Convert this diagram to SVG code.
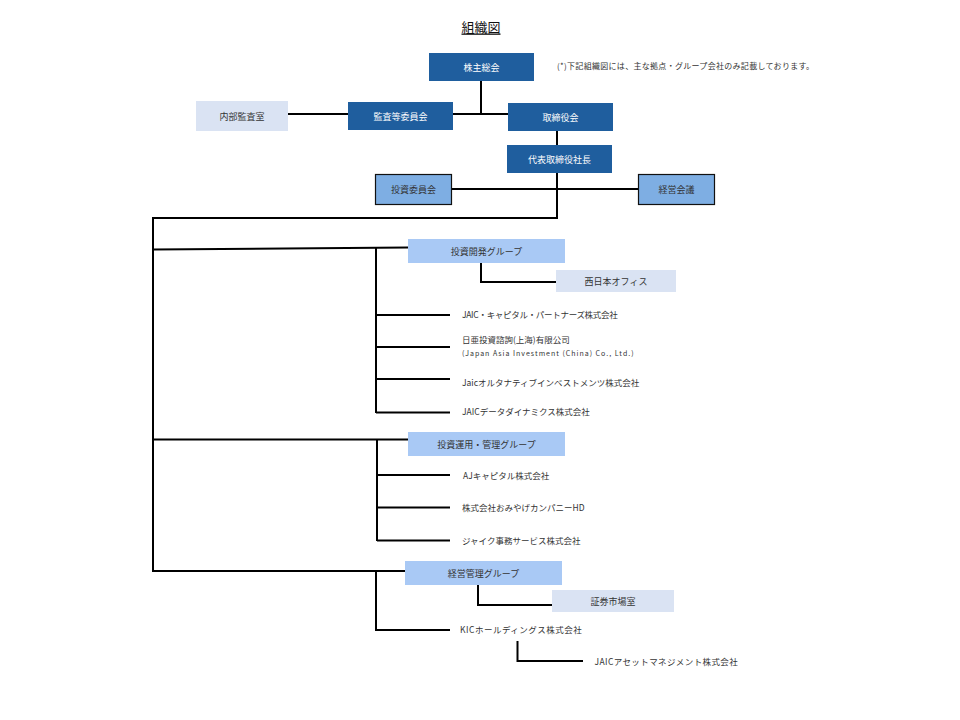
<svg xmlns="http://www.w3.org/2000/svg" width="960" height="720" viewBox="0 0 960 720">
<style>
text{font-family:"Noto Sans CJK JP","Noto Sans",sans-serif;dominant-baseline:central}
.lbl{font-size:9px;text-anchor:middle;fill:#333}
.wl{font-size:9px;text-anchor:middle;fill:#fff}
.it{font-size:8.5px;fill:#333}
.dk{fill:#1f5e9e}
.mid{fill:#7eaee3;stroke:#111;stroke-width:1.2}
.grp{fill:#a9c9f5}
.pale{fill:#dae3f3}
.ln{fill:none;stroke:#000;stroke-width:2}
</style>
<rect width="960" height="720" fill="#fff"/>
<text x="481" y="26" style="font-size:13px;text-anchor:middle;fill:#111;text-decoration:underline">組織図</text>
<text x="557" y="65" style="font-size:8px;fill:#333;letter-spacing:0.3px">(*)下記組織図には、主な拠点・グループ会社のみ記載しております。</text>
<g id="connectors">
<path class="ln" d="M481,81 V114 M288,114 H348 M453,114 H508"/>
<path class="ln" d="M557,131 V145"/>
<path class="ln" d="M557,173 V218 H153 V571 H405"/>
<path class="ln" d="M452,189 H638"/>
<path class="ln" d="M153,249.5 L408,247.5"/>
<path class="ln" d="M376,248 V413 M376,315 H450 M376,347 H450 M376,379 H450 M376,412.5 H450"/>
<path class="ln" d="M481,263 V282 H556"/>
<path class="ln" d="M153,439.5 H408 M377,439.5 V541 M377,475 H450 M377,507.5 H450 M377,540.5 H450"/>
<path class="ln" d="M376,571 V630 H450"/>
<path class="ln" d="M478,585 V605 H552"/>
<path class="ln" d="M517.5,641 V661 H583"/>
</g>
<g id="kabunushi"><rect class="dk" x="429" y="53" width="105" height="28"/><text class="wl" x="481.5" y="67">株主総会</text></g>
<g id="naibu"><rect class="pale" x="196" y="101" width="92" height="30"/><text class="lbl" x="242" y="116">内部監査室</text></g>
<g id="kansa"><rect class="dk" x="348" y="102" width="105" height="28"/><text class="wl" x="400.5" y="116">監査等委員会</text></g>
<g id="torishimariyaku"><rect class="dk" x="508" y="103" width="105" height="28"/><text class="wl" x="560.5" y="117">取締役会</text></g>
<g id="daihyo"><rect class="dk" x="507" y="145" width="105" height="28"/><text class="wl" x="559.5" y="159">代表取締役社長</text></g>
<g id="toshi-iinkai"><rect class="mid" x="375.5" y="174.5" width="76" height="30"/><text class="lbl" x="413.5" y="189.5">投資委員会</text></g>
<g id="keiei-kaigi"><rect class="mid" x="638.5" y="174.5" width="76" height="30"/><text class="lbl" x="676.5" y="189.5">経営会議</text></g>
<g id="g1"><rect class="grp" x="408" y="239" width="157" height="24"/><text class="lbl" x="486.5" y="251">投資開発グループ</text></g>
<g id="nishinihon"><rect class="pale" x="556" y="270" width="120" height="22"/><text class="lbl" x="616" y="281">西日本オフィス</text></g>
<g id="jcp"><text class="it" x="462" y="314" style="letter-spacing:-0.3px">JAIC・キャピタル・パートナーズ株式会社</text></g>
<g id="china"><text class="it" x="462" y="339">日亜投資諮詢(上海)有限公司</text><text class="it" x="462" y="352.5" style="font-size:7px;letter-spacing:1px">(Japan Asia Investment (China) Co., Ltd.)</text></g>
<g id="alt"><text class="it" x="462" y="382">Jaicオルタナティブインベストメンツ株式会社</text></g>
<g id="data"><text class="it" x="462" y="411">JAICデータダイナミクス株式会社</text></g>
<g id="g2"><rect class="grp" x="408" y="432" width="157" height="24"/><text class="lbl" x="486.5" y="444">投資運用・管理グループ</text></g>
<g id="aj"><text class="it" x="463" y="475">AJキャピタル株式会社</text></g>
<g id="omiyage"><text class="it" x="462" y="507">株式会社おみやげカンパニーHD</text></g>
<g id="jaik"><text class="it" x="462" y="540">ジャイク事務サービス株式会社</text></g>
<g id="g3"><rect class="grp" x="405" y="561" width="157" height="24"/><text class="lbl" x="483.5" y="573">経営管理グループ</text></g>
<g id="shoken"><rect class="pale" x="552" y="590" width="122" height="22"/><text class="lbl" x="613" y="601">証券市場室</text></g>
<g id="kic"><text class="it" x="460" y="629" style="letter-spacing:0.5px">KICホールディングス株式会社</text></g>
<g id="asset"><text class="it" x="594.5" y="661" style="letter-spacing:0.4px">JAICアセットマネジメント株式会社</text></g>
</svg>
